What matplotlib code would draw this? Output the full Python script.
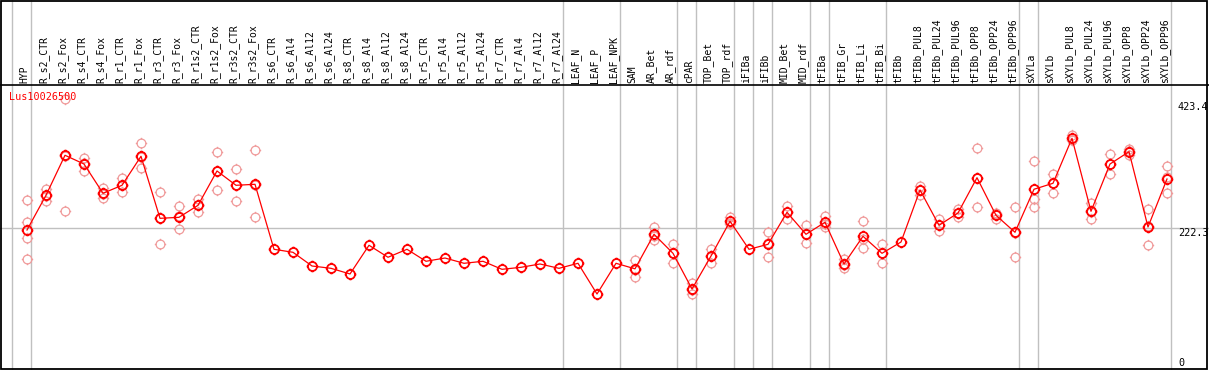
import matplotlib
matplotlib.use('Agg')
from matplotlib import pyplot as plt
from matplotlib.path import Path

title = 'Lus10026500'

labels = ['HYP', 'R_s2_CTR', 'R_s2_Fox', 'R_s4_CTR', 'R_s4_Fox', 'R_r1_CTR', 'R_r1_Fox',
          'R_r3_CTR', 'R_r3_Fox', 'R_r1s2_CTR', 'R_r1s2_Fox', 'R_r3s2_CTR', 'R_r3s2_Fox',
          'R_s6_CTR', 'R_s6_Al4', 'R_s6_Al12', 'R_s6_Al24', 'R_s8_CTR', 'R_s8_Al4',
          'R_s8_Al12', 'R_s8_Al24', 'R_r5_CTR', 'R_r5_Al4', 'R_r5_Al12', 'R_r5_Al24',
          'R_r7_CTR', 'R_r7_Al4', 'R_r7_Al12', 'R_r7_Al24', 'LEAF_N', 'LEAF_P', 'LEAF_NPK',
          'SAM', 'AR_Bet', 'AR_rdf', 'cPAR', 'TOP_Bet', 'TOP_rdf', 'iFIBa', 'iFIBb',
          'MID_Bet', 'MID_rdf', 'tFIBa', 'tFIB_Gr', 'tFIB_Li', 'tFIB_Bi', 'tFIBb',
          'tFIBb_PUL8', 'tFIBb_PUL24', 'tFIBb_PUL96', 'tFIBb_OPP8', 'tFIBb_OPP24',
          'tFIBb_OPP96', 'sXYLa', 'sXYLb', 'sXYLb_PUL8', 'sXYLb_PUL24', 'sXYLb_PUL96',
          'sXYLb_OPP8', 'sXYLb_OPP24', 'sXYLb_OPP96']

# mean expression per sample (the connected red line)
means = [219.1, 274.4, 338.1, 324.2, 277.6, 290.3, 336.5, 237.7, 239.3, 258.4, 313.1, 290.3, 291.9,
         188.4, 183.6, 161.8, 158.1, 149.1, 194.8, 175.7, 188.4, 169.3, 174.5, 166.1, 169.3,
         156.5, 159.7, 165.0, 158.1, 166.1, 117.2, 166.1, 157.3, 212.3, 182.0, 125.2, 177.7,
         233.0, 188.4, 196.3, 247.3, 212.3, 231.4, 165.0, 209.1, 182.0, 200.0, 282.8, 226.6,
         246.2, 302.4, 242.5, 215.5, 284.0, 293.5, 365.1, 248.9, 324.2, 343.8, 223.9, 300.3]

# single replicates (pink circles), empty where there is only one value
replicates = [[266.9, 231.9, 205.9, 172.5], [284.0, 265.8, 273.4], [427.7, 248.9, 337.7],
              [333.3, 313.5, 325.8], [285.5, 270.5, 277.0], [301.9, 279.1, 290.0],
              [357.2, 317.4, 335.0], [279.1, 196.3, 237.7], [256.9, 220.2, 240.8],
              [269.0, 247.3, 259.0], [343.3, 282.8, 313.0], [315.8, 264.8, 290.3],
              [346.0, 239.8, 290.0],
              [], [], [], [], [], [], [], [], [], [], [], [], [], [], [], [], [], [], [],
              [171.3, 156.0, 144.8], [223.9, 203.2, 209.8], [196.8, 166.1, 183.0],
              [134.2, 117.2, 124.0], [188.4, 166.6, 178.0], [239.3, 228.7, 231.0], [],
              [215.5, 175.7, 198.0], [257.3, 237.1, 247.5], [226.6, 198.0, 212.0],
              [241.4, 223.4, 229.0], [173.4, 158.1, 163.5], [233.0, 190.0, 204.0],
              [196.3, 167.0, 182.7], [],
              [289.7, 274.8, 283.0], [236.6, 217.0, 226.5], [253.0, 239.8, 246.0],
              [349.2, 256.2, 302.0], [246.2, 236.6, 244.5], [256.2, 175.7, 214.6],
              [328.5, 268.0, 255.3], [307.8, 278.5, 294.0], [370.9, 362.0, 362.5],
              [262.1, 236.2, 248.5], [340.1, 308.3, 324.2], [347.6, 338.5, 345.0],
              [252.1, 194.8, 224.8], [320.5, 277.6, 302.8]]

# last sample index of each group (grey separators)
group_ends = [-1, 0, 28, 31, 34, 35, 37, 38, 39, 41, 42, 45, 52, 53, 60]
y_ticks = [423.4, 222.3, 0]

W, H = 1209, 370
X0, DX = 27, 19          # pixel of first column, pixels per column
Y_MID, PPU = 228, 0.628  # pixel row of 222.3, pixels per unit


def v_at(py):
    return 222.3 + (Y_MID - py) / PPU


def c_at(px):
    return (px - X0) / DX


plt.rcParams['font.family'] = ['DejaVu Sans Mono']
fig = plt.figure(figsize=(W / 100, H / 100), dpi=100)
ax = fig.add_axes([0, 0, 1, 1])
ax.set_xlim(c_at(0), c_at(W))
ax.set_ylim(v_at(H), v_at(0))
ax.axis('off')

# circle with four little ticks, like the original marker
tk = 1.3
mk = Path.make_compound_path(
    Path.circle((0, 0), 1.0),
    Path([[0, 1], [0, tk]], [Path.MOVETO, Path.LINETO]),
    Path([[0, -1], [0, -tk]], [Path.MOVETO, Path.LINETO]),
    Path([[1, 0], [tk, 0]], [Path.MOVETO, Path.LINETO]),
    Path([[-1, 0], [-tk, 0]], [Path.MOVETO, Path.LINETO]))

xs = list(range(len(labels)))

# grid
for g in group_ends:
    ax.axvline(g + 4 / DX, color='#c0c0c0', lw=1, zorder=1)
ax.axhline(222.3, color='#c0c0c0', lw=1, zorder=1)

for i, reps in enumerate(replicates):
    if reps:
        ax.plot([i] * len(reps), reps, ls='none', marker=mk, ms=8.2, mfc='none',
                mec='#f09a9a', mew=0.9, zorder=2, clip_on=False)

ax.plot(xs, means, color='red', lw=0.9, marker=mk, ms=8.4, mfc='none',
        mec='red', mew=1.3, zorder=3)

# header with sample names
ax.axhline(v_at(85), color='black', lw=1.2, zorder=4)
for i, lab in enumerate(labels):
    ax.text(i - 2.5 / DX, v_at(83), lab, rotation=90, ha='center', va='bottom',
            fontsize=7, color='black')

ax.text(c_at(9), v_at(97), title, color='red', fontsize=7.3, va='center', ha='left', zorder=5)

# value labels at the right
for t in y_ticks:
    if t == 0:
        ax.text(c_at(1178), t, '0', fontsize=7.3, va='bottom', ha='left')
    else:
        ax.text(c_at(1178), t, '%.1f' % t, fontsize=7.3, va='top', ha='left')

# outer frame
fig.add_artist(plt.Rectangle((0.6 / W, 1.5 / H), 1206.6 / W, 367.8 / H, transform=fig.transFigure,
                             fill=False, ec='black', lw=1.3))

plt.savefig('out.png', dpi=100)
